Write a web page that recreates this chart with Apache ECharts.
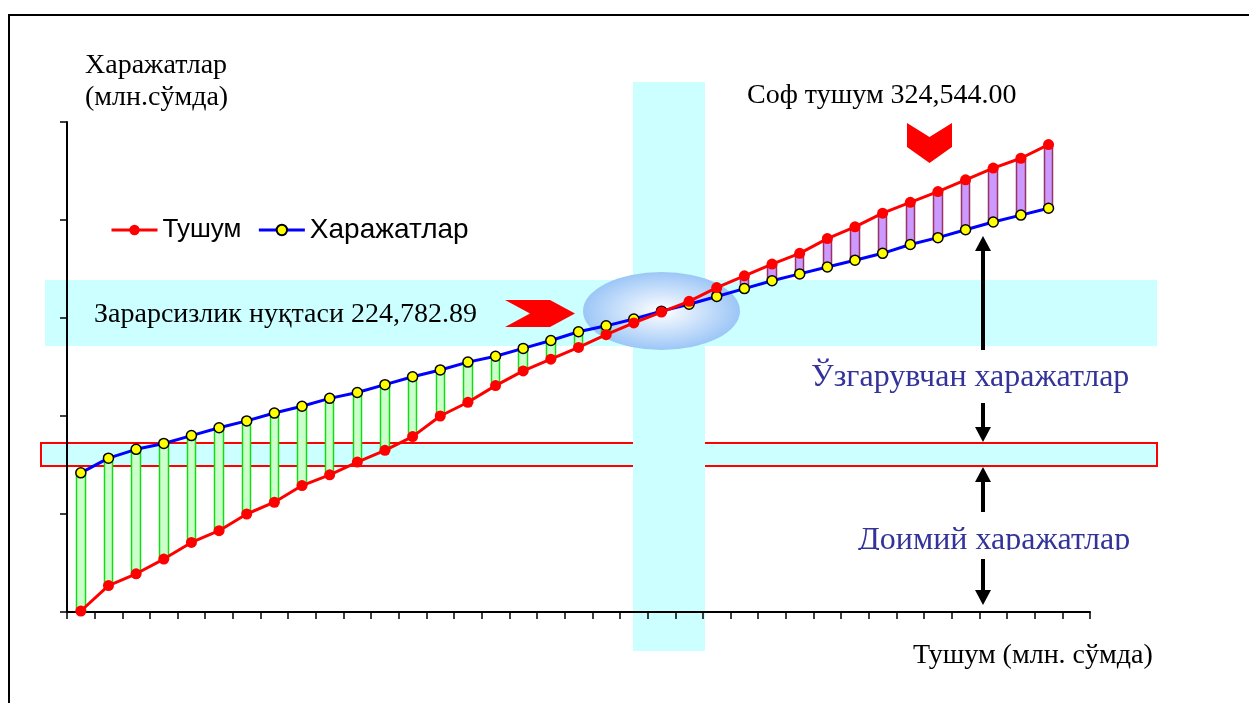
<!DOCTYPE html>
<html>
<head>
<meta charset="utf-8">
<script src="https://cdn.jsdelivr.net/npm/echarts@6/dist/echarts.min.js"></script>
<style>
  html, body { margin: 0; padding: 0; background: #ffffff; }
  #chart { width: 1249px; height: 703px; }
</style>
</head>
<body>
<div id="chart"></div>
<script>
// Revenue steps along the horizontal axis (37 bands, last one left empty)
const categories = Array.from({ length: 37 }, (_, i) => String(i + 1));

// Тушум – revenue, млн. сўм
const revenue = [1, 27, 39, 54, 71, 83, 100, 112, 129, 140, 153, 165, 179, 200, 214, 231, 246, 258,
                 270, 283, 295, 306, 317, 331, 343, 355, 366, 381, 393, 407, 418, 429, 441, 453, 463, 477];

// Харажатлар – total costs, млн. сўм
const costs = [142, 157, 166, 172, 180, 188, 195, 203, 210, 218, 224, 232, 240, 247, 255, 261, 269, 277,
               286, 292, 299, 307, 314, 322, 330, 338, 345, 352, 359, 366, 375, 382, 390, 398, 405, 412];

const seriesNames = ['Тушум', 'Харажатлар'];
const yTicks = [0, 100, 200, 300, 400, 500];

// Gap bars between cost and revenue: [open, close, low, high]
const gapBars = costs.map((c, i) => [c, revenue[i], Math.min(c, revenue[i]), Math.max(c, revenue[i])]);

const SERIF = '"Liberation Serif", "Times New Roman", serif';
const SANS = '"Liberation Sans", Arial, sans-serif';
const CYAN = '#ccffff';
const NAVY = '#333399';

function text(str, x, y, size, color, z) {
  return {
    type: 'text', z: z || 10, silent: true,
    style: { text: str, x: x, y: y, font: size + 'px ' + SERIF, fill: color || '#000',
             textAlign: 'left', textVerticalAlign: 'middle' }
  };
}
function arrow(x, yFrom, yTo) {
  const dir = yTo > yFrom ? 1 : -1;
  const headBase = yTo - dir * 15;
  return [
    { type: 'line', z: 12, silent: true, shape: { x1: x, y1: yFrom, x2: x, y2: headBase },
      style: { stroke: '#000', lineWidth: 4 } },
    { type: 'polygon', z: 12, silent: true,
      shape: { points: [[x - 8, headBase], [x + 8, headBase], [x, yTo]] },
      style: { fill: '#000' } }
  ];
}

const chart = echarts.init(document.getElementById('chart'), null, { renderer: 'canvas' });

const option = {
  animation: false,
  backgroundColor: '#ffffff',
  grid: { left: 67, right: 159, top: 122, bottom: 91, containLabel: false },
  legend: {
    data: seriesNames,
    left: 105, top: 211,
    itemWidth: 46, itemHeight: 13, itemGap: 16,
    lineStyle: { width: 3 },
    formatter: name => name === seriesNames[1] ? '{wide|' + name + '}' : name,
    textStyle: {
      fontFamily: SANS, fontSize: 26, color: '#000',
      rich: { wide: { fontFamily: SANS, fontSize: 28, color: '#000' } }
    },
    selectedMode: false
  },
  xAxis: {
    type: 'category',
    data: categories,
    boundaryGap: true,
    axisLine: { show: true, lineStyle: { color: '#000', width: 2 } },
    axisTick: { show: true, interval: 0, length: 7, lineStyle: { color: '#000', width: 1.5 } },
    axisLabel: { show: false },
    splitLine: { show: false }
  },
  yAxis: {
    type: 'value',
    min: yTicks[0], max: yTicks[yTicks.length - 1], interval: yTicks[1] - yTicks[0],
    axisLine: { show: true, lineStyle: { color: '#000', width: 2 } },
    axisTick: { show: true, length: 7, lineStyle: { color: '#000', width: 1.5 } },
    axisLabel: { show: false },
    splitLine: { show: false }
  },
  series: [
    {
      name: 'gap', type: 'candlestick', z: 2, silent: true,
      barWidth: 9,
      data: gapBars,
      itemStyle: {
        color: '#cc99ff', borderColor: '#993366',
        color0: '#ccffcc', borderColor0: '#11dd11',
        borderWidth: 1.5
      }
    },
    {
      name: seriesNames[0], type: 'line', z: 4,
      data: revenue,
      symbol: 'circle', symbolSize: 11,
      lineStyle: { color: '#ff0000', width: 3 },
      itemStyle: { color: '#ff0000', borderWidth: 0 }
    },
    {
      name: seriesNames[1], type: 'line', z: 3,
      data: costs,
      symbol: 'circle', symbolSize: 10,
      lineStyle: { color: '#0000ff', width: 3 },
      itemStyle: { color: '#ffff00', borderColor: '#000', borderWidth: 1.5 }
    }
  ],
  graphic: { elements: [
    // frame
    { type: 'polyline', z: 10, silent: true, shape: { points: [[9, 703], [9, 15], [1249, 15]] },
      style: { stroke: '#000', lineWidth: 2, fill: null } },
    // highlighted bands
    { type: 'rect', z: -3, silent: true, shape: { x: 45, y: 280, width: 1112, height: 66 }, style: { fill: CYAN } },
    { type: 'rect', z: -3, silent: true, shape: { x: 41, y: 443, width: 1116, height: 23 },
      style: { fill: CYAN, stroke: '#ff0000', lineWidth: 2 } },
    { type: 'rect', z: -2, silent: true, shape: { x: 633, y: 82, width: 72, height: 569 }, style: { fill: CYAN } },
    // break-even halo
    { type: 'circle', z: -1, silent: true, x: 661.5, y: 311, scaleX: 1, scaleY: 39 / 78.5,
      shape: { cx: 0, cy: 0, r: 78.5 },
      style: { fill: { type: 'radial', x: 0.5, y: 0.5, r: 0.5,
        colorStops: [{ offset: 0, color: '#ffffff' }, { offset: 1, color: '#9cc6f7' }] } } },
    // axis titles
    text('Харажатлар', 85, 65.5, 28),
    text('(млн.сўмда)', 85, 97.5, 28),
    text('Тушум (млн. сўмда)', 913, 655.5, 28),
    // annotations
    text('Зарарсизлик нуқтаси 224,782.89', 94, 314.5, 28),
    text('Соф тушум 324,544.00', 747, 95.5, 28),
    { type: 'polygon', z: 10, silent: true,
      shape: { points: [[505, 300], [550, 300], [575, 313.5], [550, 327], [505, 327], [530, 313.5]] },
      style: { fill: '#ff0000' } },
    { type: 'polygon', z: 10, silent: true,
      shape: { points: [[907, 123], [929.5, 137], [952, 123], [952, 147], [929.5, 163], [907, 147]] },
      style: { fill: '#ff0000' } },
    text('Ўзгарувчан харажатлар', 811, 378, 32, NAVY),
    text('Доимий харажатлар', 858, 540.5, 32, NAVY),
    // the lower edge of the fixed-cost caption is cut off
    { type: 'rect', z: 11, silent: true, shape: { x: 850, y: 550, width: 295, height: 9 }, style: { fill: '#ffffff' } },
    ...arrow(983, 350, 236),
    ...arrow(983, 403, 442),
    ...arrow(983, 512, 467),
    ...arrow(983, 559, 605)
  ] }
};

chart.setOption(option);
</script>
</body>
</html>
